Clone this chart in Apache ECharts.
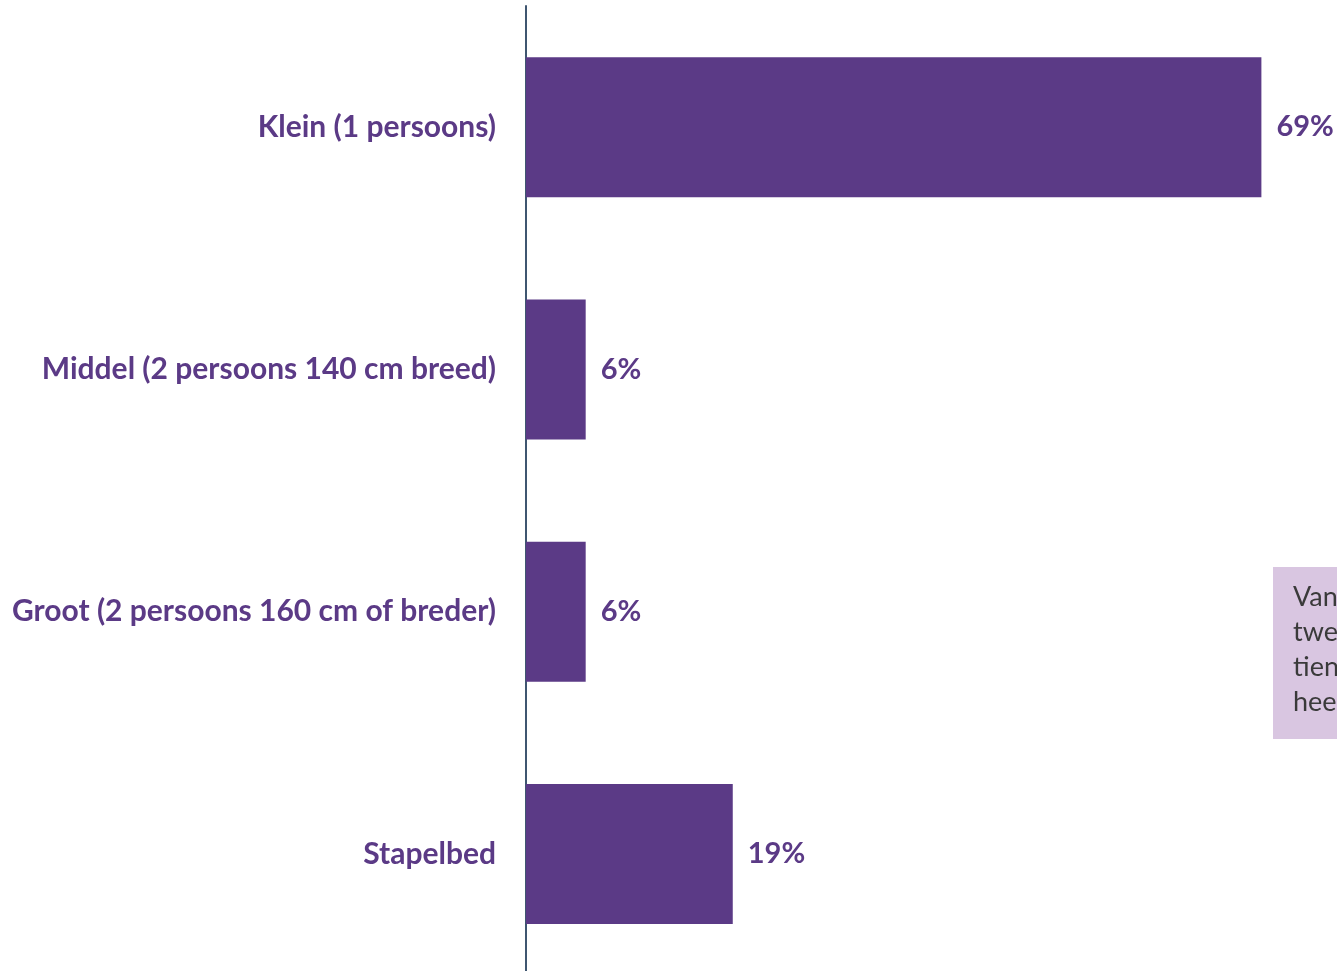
<!DOCTYPE html>
<html><head><meta charset="utf-8">
<script src="https://cdn.jsdelivr.net/npm/echarts@6/dist/echarts.min.js"></script>
<style>html,body{margin:0;padding:0;background:#fff}#c{width:1337px;height:971px}</style>
</head><body><div id="c"></div>
<script>
const categories = ['Klein (1 persoons)', 'Middel (2 persoons 140 cm breed)', 'Groot (2 persoons 160 cm of breder)', 'Stapelbed'];
const values = [69, 5.6, 5.6, 19.4];
const labels = ['69%', '6%', '6%', '19%'];
const noteLines = ['Van', 'twe', 'tien', 'hee'];

const chart = echarts.init(document.getElementById('c'));
const purple = '#5B3A86';
chart.setOption({
  animation: false,
  grid: { left: 526, width: 810, top: 6, height: 969, containLabel: false, outerBoundsMode: 'none' },
  xAxis: { type: 'value', min: 0, max: 76, show: false },
  yAxis: {
    type: 'category', data: categories, inverse: true,
    axisLine: { show: true, lineStyle: { color: '#3F5670', width: 2 } },
    axisTick: { show: false },
    axisLabel: { color: purple, fontFamily: 'Lato', fontWeight: 'bold', fontSize: 30, margin: 30, padding: [8, 0, 0, 0] }
  },
  series: [{
    type: 'bar', barWidth: 140,
    data: values,
    itemStyle: { color: '#5B3A86' },
    label: {
      show: true, position: 'right', distance: 15,
      color: purple, fontFamily: 'Lato', fontWeight: 'bold', fontSize: 29,
      padding: [12, 0, 0, 0],
      formatter: p => labels[p.dataIndex]
    }
  }],
  graphic: [
    { type: 'rect', shape: { x: 1273, y: 567, width: 80, height: 172 }, style: { fill: '#D9C6E1' } },
    { type: 'text', left: 1293, top: 580, style: { text: noteLines.join('\n'), fill: '#3A3A3A', font: '27px Lato', lineHeight: 35 } }
  ]
});
</script></body></html>
